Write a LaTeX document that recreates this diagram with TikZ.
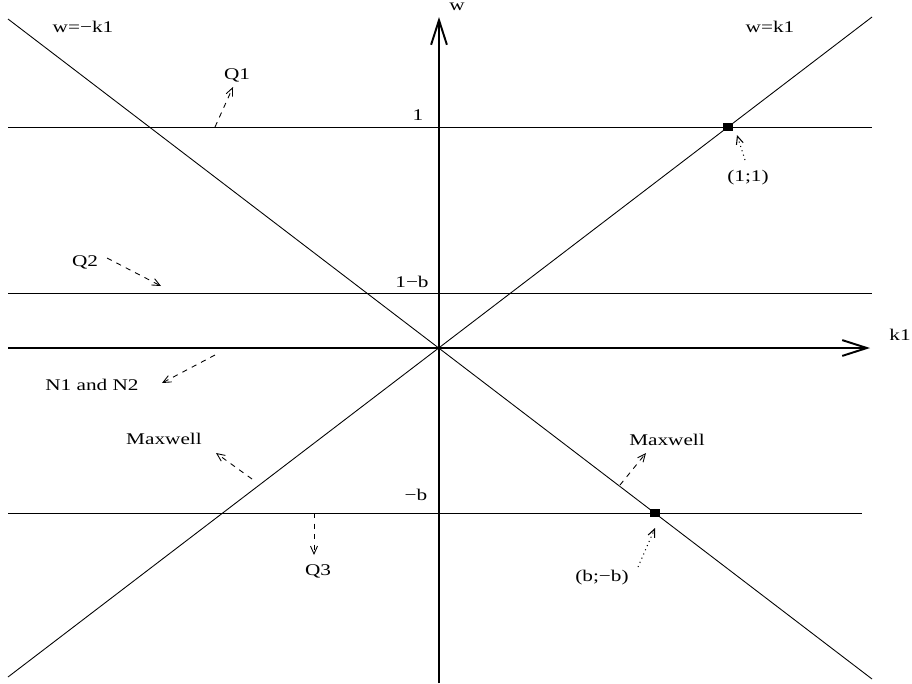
\documentclass[tikz,border=0pt]{standalone}
\usepackage{fontspec}
\setmainfont{Liberation Serif}[FakeStretch=1.3]
\usetikzlibrary{arrows.meta}
\tikzset{
    axis/.style={line width=1.1pt,-{Straight Barb[length=14pt,width=9pt,line width=1.1pt]}},
    level/.style={line width=0.5pt},
    ray/.style={line width=0.5pt},
    hint/.style={dashed,line width=0.5pt,-{Straight Barb[length=4.5pt,width=4pt]}},
    pointer/.style={dotted,line width=0.6pt,-{Straight Barb[length=4.5pt,width=4pt]}},
    lbl/.style={font=\fontsize{9.3}{10}\selectfont,inner sep=1pt},
    knot/.style={fill,inner sep=0pt,minimum width=5.7pt,minimum height=4.5pt},
}
\begin{document}
\begin{tikzpicture}[x=0.02cm,y=-0.02cm]
    \useasboundingbox (0,0) rectangle (912,683);
    % axes
    \coordinate (O) at (439,348);
    \coordinate (wbot) at (439,683);
    \coordinate (wtop) at (439,17);
    \coordinate (kleft) at (8,348);
    \coordinate (kright) at (870,348);
    \draw[axis] (wbot) -- (wtop);
    \draw[axis] (kleft) -- (kright);
    \node[lbl] (wlab) at (457,7) {w};
    \node[lbl] (k1lab) at (900,335) {k1};

    % horizontal levels
    \draw[level] (8,127) -- (872,127);
    \draw[level] (8,293) -- (872,293);
    \draw[level] (8,513) -- (862,513);
    \node[lbl] (one) at (418,115) {1};
    \node[lbl] (oneb) at (412,282) {1−b};
    \node[lbl] (minb) at (416,495) {−b};

    % diagonals
    \draw[ray] (8,677) -- (872,17);
    \draw[ray] (8,19) -- (872,679);
    \node[lbl] (wneg) at (83,27) {w=−k1};
    \node[lbl] (wpos) at (770,27) {w=k1};

    % special points
    \node[knot] (p11) at (728,127) {};
    \node[knot] (pbb) at (655,513) {};
    \node[lbl] (p11lab) at (748,178) {(1;1)};
    \node[lbl] (pbblab) at (602,578) {(b;−b)};
    \coordinate (p11tail) at (745,160);
    \coordinate (p11tip) at (737,135);
    \coordinate (pbbtail) at (638,567);
    \coordinate (pbbtip) at (655,528);
    \draw[pointer] (p11tail) -- (p11tip);
    \draw[pointer] (pbbtail) -- (pbbtip);

    % region labels
    \node[lbl] (q1) at (237,75) {Q1};
    \node[lbl] (q2) at (85,262) {Q2};
    \node[lbl] (n12) at (92,385) {N1 and N2};
    \node[lbl] (maxl) at (164,439) {Maxwell};
    \node[lbl] (q3) at (318,571) {Q3};
    \node[lbl] (maxr) at (667,440) {Maxwell};
    \coordinate (q1foot) at (215,127);
    \coordinate (q1tip) at (233,87);
    \coordinate (q2foot) at (107,258);
    \coordinate (q2tip) at (161,286);
    \coordinate (n12foot) at (215,355);
    \coordinate (n12tip) at (162,383);
    \coordinate (maxlfoot) at (252,479);
    \coordinate (maxltip) at (216,453);
    \coordinate (q3foot) at (314,513);
    \coordinate (q3tip) at (314,555);
    \coordinate (maxrfoot) at (620,485);
    \coordinate (maxrtip) at (646,453);
    \draw[hint] (q1foot) -- (q1tip);
    \draw[hint] (q2foot) -- (q2tip);
    \draw[hint] (n12foot) -- (n12tip);
    \draw[hint] (maxlfoot) -- (maxltip);
    \draw[hint] (q3foot) -- (q3tip);
    \draw[hint] (maxrfoot) -- (maxrtip);
\end{tikzpicture}
\end{document}
